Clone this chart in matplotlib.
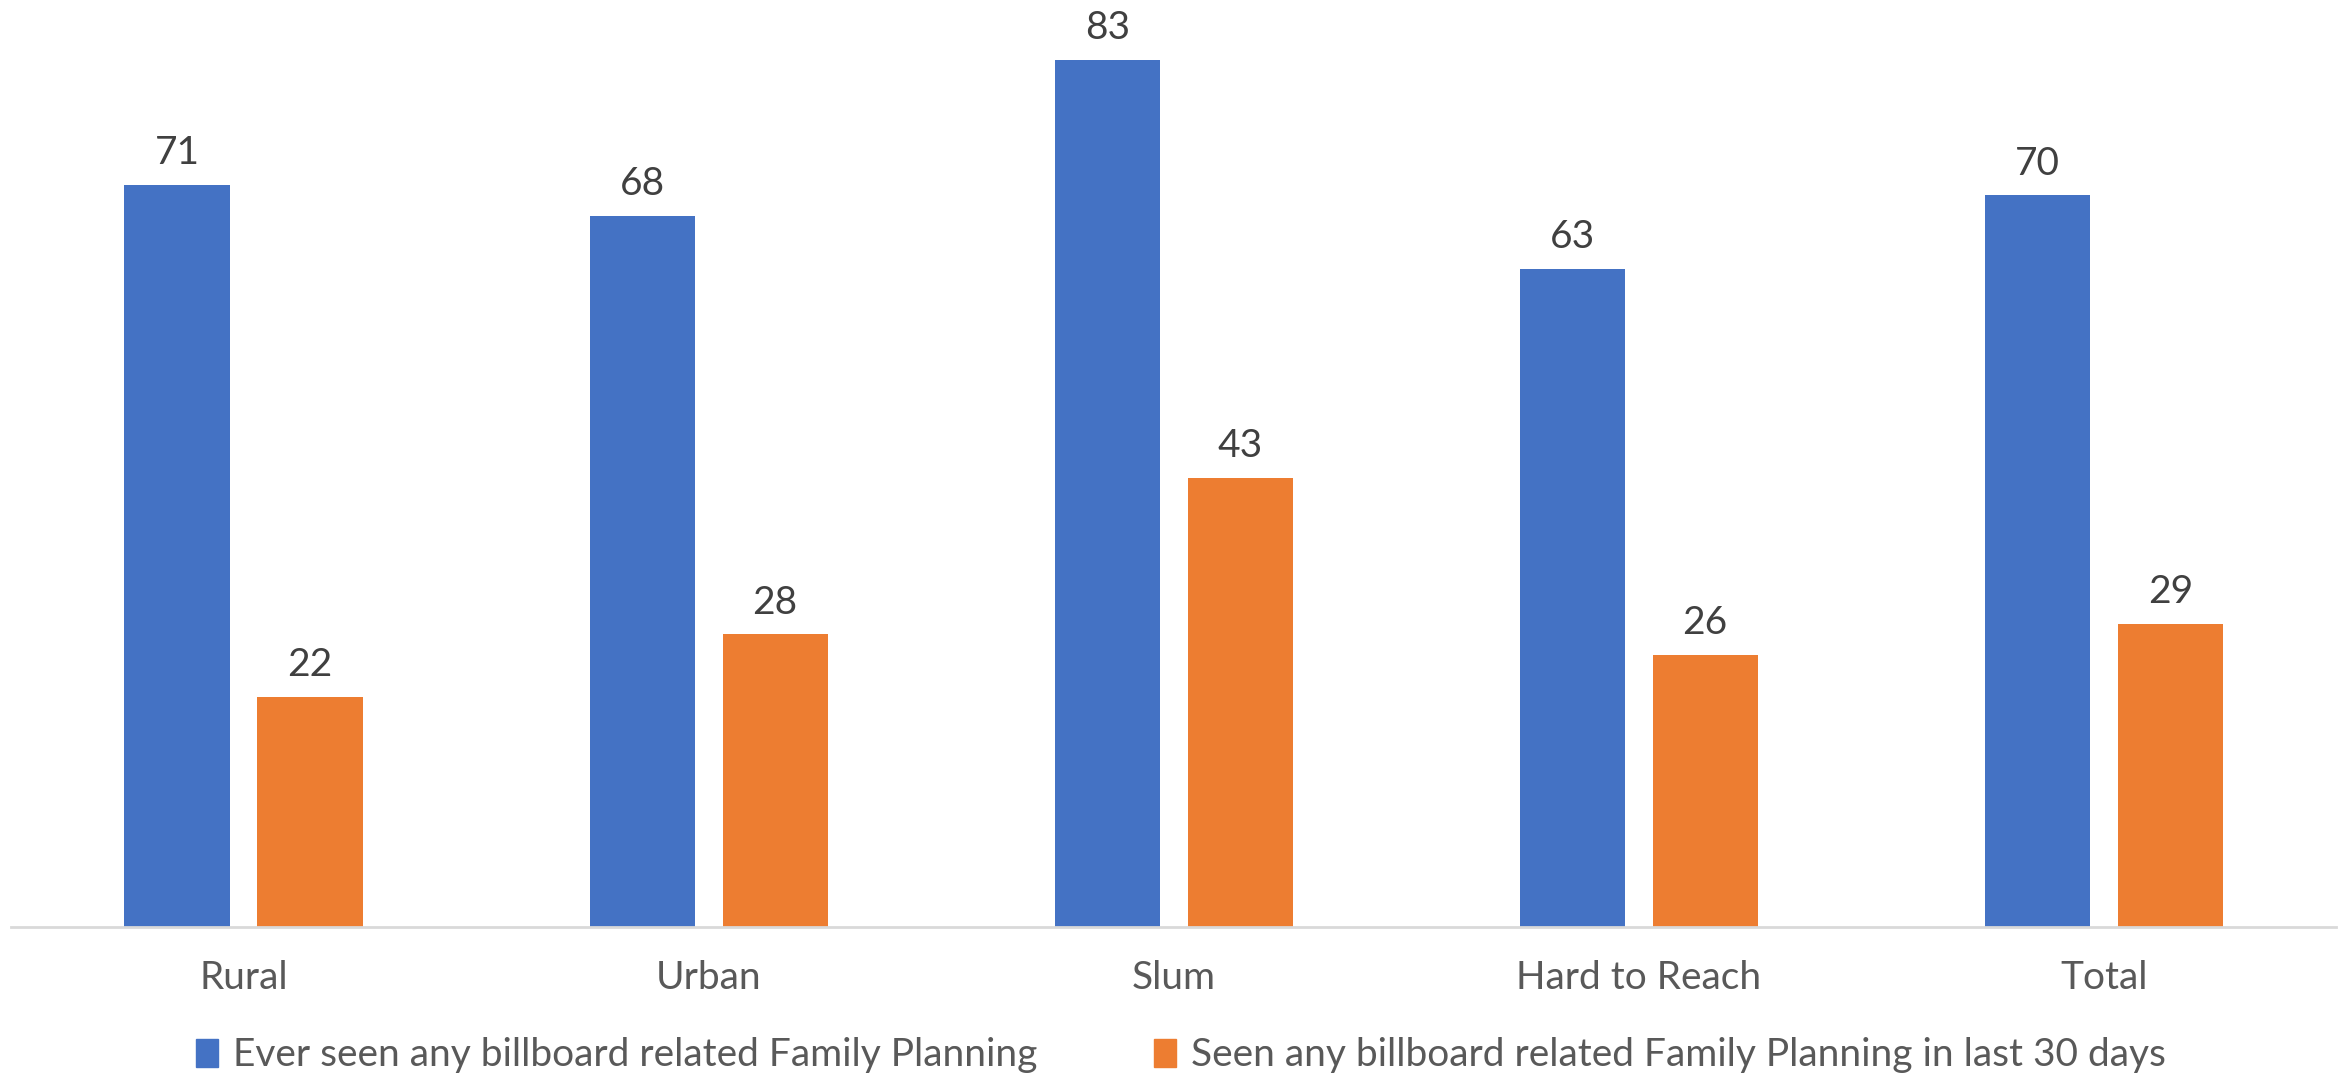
import matplotlib.pyplot as plt
import numpy as np
from matplotlib.patches import Patch

plt.rcParams['font.family'] = ['Lato', 'DejaVu Sans']

# ---------------- DATA ----------------
categories = ["Rural", "Urban", "Slum", "Hard to Reach", "Total"]
ever_seen = [71, 68, 83, 63, 70]
seen_30_days = [22, 28, 43, 26, 29]
series_names = [
    "Ever seen any billboard related Family Planning",
    "Seen any billboard related Family Planning in last 30 days",
]

BLUE = "#4472C4"
ORANGE = "#ED7D31"

# ---------------- PLOT ----------------
fig = plt.figure(figsize=(23.44, 10.78), dpi=100)
ax = fig.add_axes([0.0047, 0.140, 0.992, 0.860])

x = np.arange(len(categories))
width = 0.226
offset = 0.143

bars1 = ax.bar(x - offset, ever_seen, width, color=BLUE)
bars2 = ax.bar(x + offset, seen_30_days, width, color=ORANGE)

for bars, vals in ((bars1, ever_seen), (bars2, seen_30_days)):
    for b, v in zip(bars, vals):
        ax.annotate(str(v), (b.get_x() + b.get_width() / 2, v),
                    xytext=(0, 10), textcoords="offset points",
                    ha="center", va="bottom", fontsize=28, color="#404040")

ax.set_xlim(-0.5, len(categories) - 0.5)
ax.set_ylim(0, 88.7)
ax.set_xticks(x)
ax.set_xticklabels(categories, fontsize=28, color="#595959")
ax.tick_params(axis="x", length=0, pad=24)
ax.set_yticks([])

for s in ("top", "right", "left"):
    ax.spines[s].set_visible(False)
ax.spines["bottom"].set_color("#D9D9D9")
ax.spines["bottom"].set_linewidth(2)

handles = [Patch(color=BLUE), Patch(color=ORANGE)]
fig.legend(handles, series_names, loc="center", bbox_to_anchor=(0.504, 0.021),
           ncol=2, frameon=False, fontsize=28, labelcolor="#595959",
           handlelength=0.55, handleheight=0.75, handletextpad=0.4,
           columnspacing=3.0)

fig.savefig("out.png", dpi=100)
